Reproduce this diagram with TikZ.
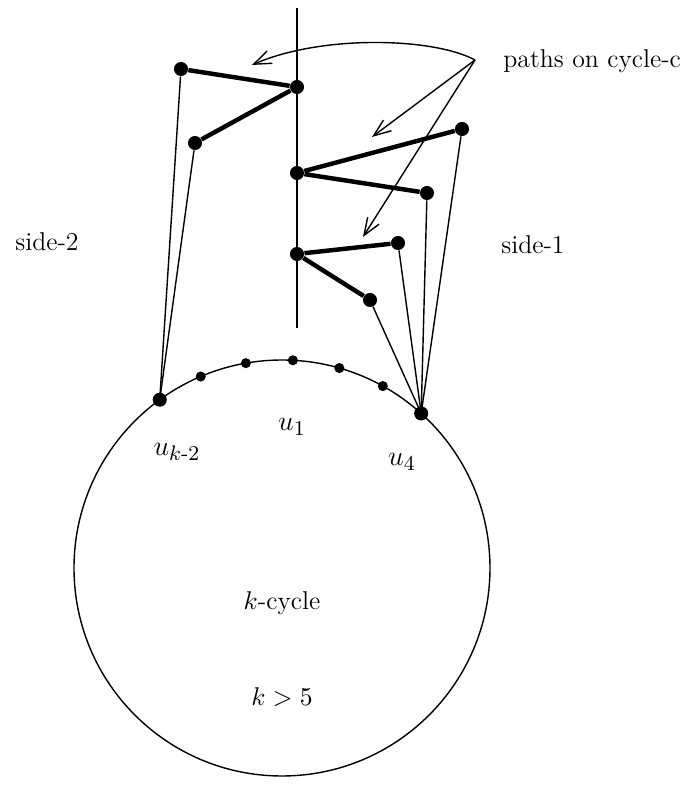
\documentclass[tikz,border=0pt]{standalone}
\usepackage{amsmath}
\usetikzlibrary{arrows.meta}

\tikzset{
    dot/.style={circle, fill, inner sep=0pt, minimum size=6pt},
    smalldot/.style={circle, fill, inner sep=0pt, minimum size=4.3pt},
    pathedge/.style={line width=1.9pt},
    thinedge/.style={line width=0.6pt},
    pointer/.style={line width=0.6pt, -{Straight Barb[length=2.6mm, width=2mm]}},
    lbl/.style={font=\fontsize{11}{13}\selectfont},
    vlbl/.style={font=\fontsize{13}{15}\selectfont}
}

\begin{document}
\begin{tikzpicture}[scale=0.75]
            \useasboundingbox (-5.64,-4.46) rectangle (8.22,11.36);

            % the k-cycle
            \draw[line width=0.6pt] (0,0) circle (4.16);
            \foreach \a/\n in {126/k2, 113/v2, 100/v3, 87/u1, 74/v5, 61/v6, 48/u4}
                \node[smalldot] (\n) at (\a:4.16) {};
            \node[dot] at (k2) {};
            \node[dot] at (u4) {};

            \draw[line width=0.6pt] (0.3,11.2)--(0.3,4.8);

            % paths on the left
            \node[dot] (a) at (-2.02,9.98) {};
            \node[dot] (b) at (0.3,9.62) {};
            \node[dot] (c) at (-1.74,8.5) {};
            \draw[pathedge] (a)--(b)--(c);
            \draw[thinedge] (a)--(k2.center);
            \draw[thinedge] (c)--(k2.center);

            % paths on the right
            \node[dot] (d) at (0.3,7.9) {};
            \node[dot] (e) at (3.6,8.78) {};
            \node[dot] (f) at (2.9,7.5) {};
            \node[dot] (g) at (0.3,6.28) {};
            \node[dot] (h) at (2.32,6.5) {};
            \node[dot] (i) at (1.76,5.36) {};
            \draw[pathedge] (e)--(d)--(f);
            \draw[pathedge] (h)--(g)--(i);
            \foreach \p in {e,f,h,i}
                \draw[thinedge] (\p)--(u4.center);

            % pointers
            \coordinate (tip) at (3.86,10.16);
            \coordinate (t1) at (-0.6,10.06);
            \coordinate (t2) at (1.8,8.62);
            \coordinate (t3) at (1.62,6.62);
            \draw[pointer] (tip) .. controls (3.0,10.62) and (0.76,10.66) .. (t1);
            \draw[pointer] (tip)--(t2);
            \draw[pointer] (tip)--(t3);

            \node[lbl, anchor=west, inner sep=0pt] (paths) at (4.42,10.14) {paths on cycle-c};
            \node[lbl] (side2) at (-4.7,6.52) {side-2};
            \node[lbl] (side1) at (5.02,6.46) {side-1};

            \node[vlbl] (lk2) at (-2.1,2.32) {$u_{k\textrm{-}2}$};
            \node[vlbl] (l1) at (0.2,2.82) {$u_1$};
            \node[vlbl] (l4) at (2.4,2.12) {$u_4$};
            \node[lbl] (kc) at (0,-0.7) {$k$-cycle};
            \node[lbl] (kg) at (0,-2.58) {$k>5$};
        \end{tikzpicture}
\end{document}
